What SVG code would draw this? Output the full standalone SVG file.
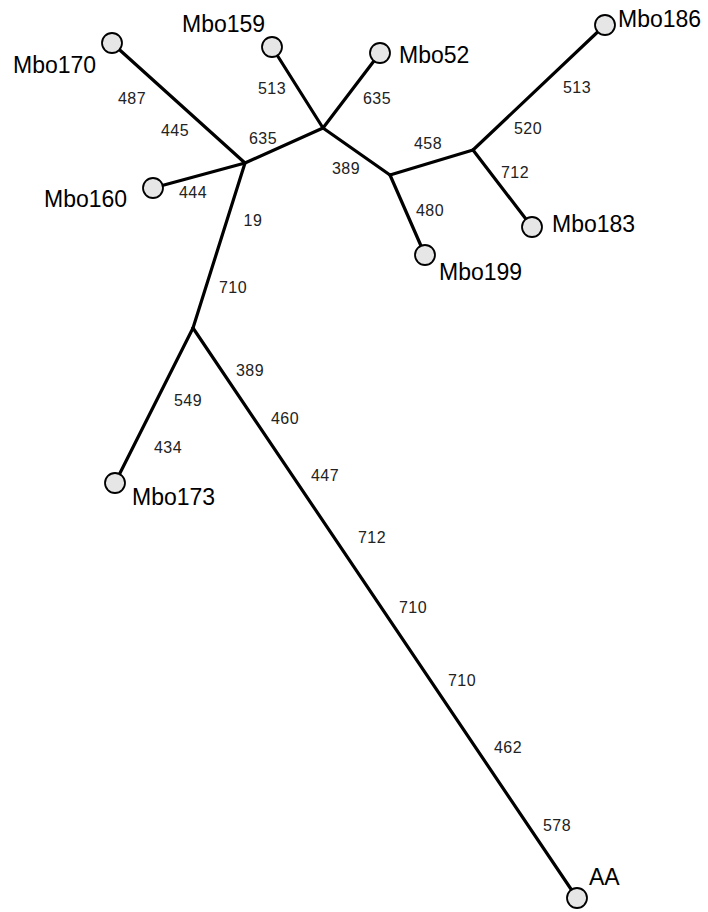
<svg xmlns="http://www.w3.org/2000/svg" width="708" height="912" viewBox="0 0 708 912">
<style>
.e{stroke:#000;stroke-width:3.2;fill:none;stroke-linecap:round}
.n{fill:#e6e6e6;stroke:#000;stroke-width:1.8}
.t{font-family:"Liberation Sans",Arial,sans-serif;font-size:23px;fill:#000}
.l{font-family:"Liberation Sans",Arial,sans-serif;font-size:16px;fill:#222;text-anchor:middle;letter-spacing:0.5px}
</style>
<rect width="708" height="912" fill="#fff"/>
<g id="connectors">
<line class="e" x1="112" y1="43" x2="245" y2="163"/>
<line class="e" x1="153" y1="188" x2="245" y2="163"/>
<line class="e" x1="245" y1="163" x2="323" y2="128"/>
<line class="e" x1="272" y1="47" x2="323" y2="128"/>
<line class="e" x1="380" y1="53" x2="323" y2="128"/>
<line class="e" x1="323" y1="128" x2="390" y2="175"/>
<line class="e" x1="390" y1="175" x2="425" y2="255"/>
<line class="e" x1="390" y1="175" x2="473" y2="150"/>
<line class="e" x1="473" y1="150" x2="605" y2="25"/>
<line class="e" x1="473" y1="150" x2="532" y2="227"/>
<line class="e" x1="245" y1="163" x2="193" y2="328"/>
<line class="e" x1="193" y1="328" x2="115" y2="483"/>
<line class="e" x1="193" y1="328" x2="577" y2="898"/>
</g>
<g id="edge-labels">
<text class="l" x="132" y="104">487</text>
<text class="l" x="175" y="136">445</text>
<text class="l" x="263" y="144">635</text>
<text class="l" x="272" y="94">513</text>
<text class="l" x="193" y="198">444</text>
<text class="l" x="253" y="226">19</text>
<text class="l" x="346" y="174">389</text>
<text class="l" x="377" y="104">635</text>
<text class="l" x="428" y="149">458</text>
<text class="l" x="577" y="93">513</text>
<text class="l" x="528" y="134">520</text>
<text class="l" x="515" y="178">712</text>
<text class="l" x="430" y="216">480</text>
<text class="l" x="233" y="293">710</text>
<text class="l" x="250" y="376">389</text>
<text class="l" x="188" y="406">549</text>
<text class="l" x="285" y="424">460</text>
<text class="l" x="168" y="453">434</text>
<text class="l" x="325" y="481">447</text>
<text class="l" x="372" y="543">712</text>
<text class="l" x="413" y="613">710</text>
<text class="l" x="462" y="686">710</text>
<text class="l" x="508" y="753">462</text>
<text class="l" x="557" y="831">578</text>
</g>
<g id="Mbo170"><circle class="n" cx="112" cy="43" r="10"/><text class="t" x="13" y="73">Mbo170</text></g>
<g id="Mbo159"><circle class="n" cx="272" cy="47" r="10"/><text class="t" x="182" y="32">Mbo159</text></g>
<g id="Mbo160"><circle class="n" cx="153" cy="188" r="10"/><text class="t" x="44" y="207">Mbo160</text></g>
<g id="Mbo52"><circle class="n" cx="380" cy="53" r="10"/><text class="t" x="399" y="63">Mbo52</text></g>
<g id="Mbo186"><circle class="n" cx="605" cy="25" r="10"/><text class="t" x="618" y="27">Mbo186</text></g>
<g id="Mbo183"><circle class="n" cx="532" cy="227" r="10"/><text class="t" x="552" y="232">Mbo183</text></g>
<g id="Mbo199"><circle class="n" cx="425" cy="255" r="10"/><text class="t" x="439" y="280">Mbo199</text></g>
<g id="Mbo173"><circle class="n" cx="115" cy="483" r="10"/><text class="t" x="132" y="505">Mbo173</text></g>
<g id="AA"><circle class="n" cx="577" cy="898" r="10"/><text class="t" x="589" y="885">AA</text></g>
</svg>
